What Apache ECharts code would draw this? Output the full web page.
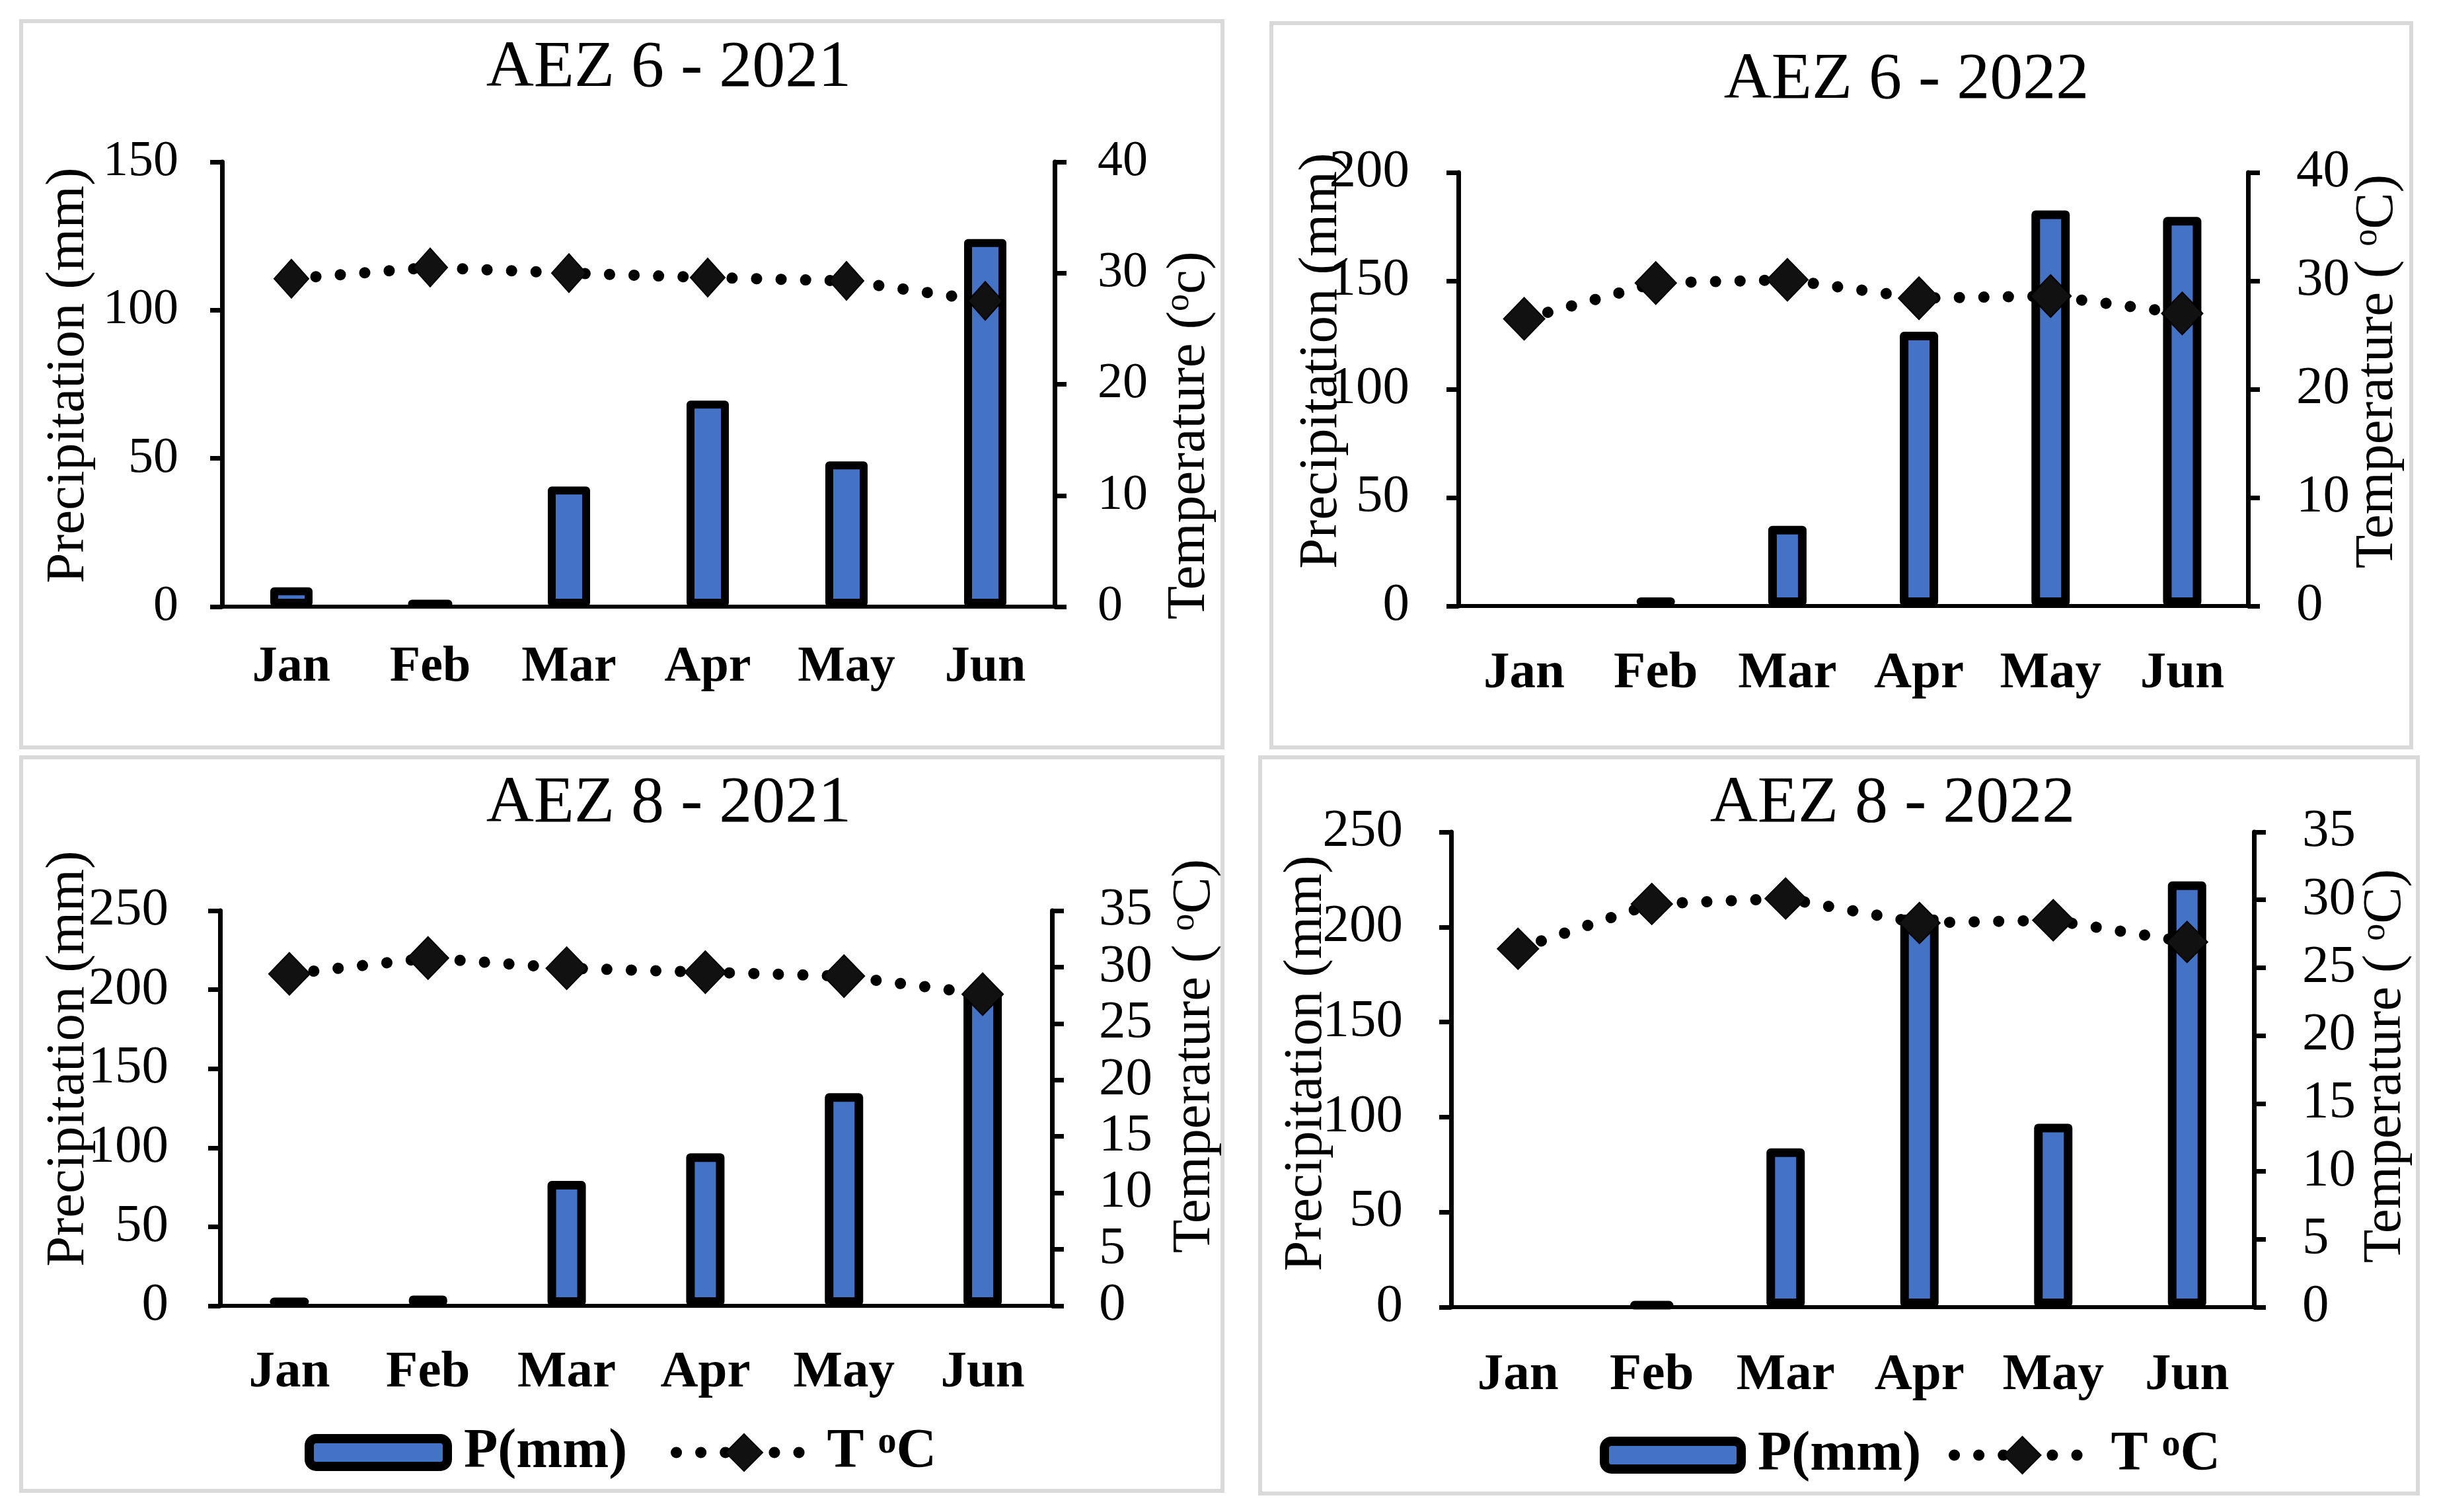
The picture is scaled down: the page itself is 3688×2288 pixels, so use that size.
<!DOCTYPE html>
<html><head><meta charset="utf-8">
<script src="https://cdn.jsdelivr.net/npm/echarts@6/dist/echarts.min.js"></script>
<style>html,body{margin:0;padding:0;background:#fff}#c{width:3688px;height:2288px}</style>
</head><body><div id="c"></div>
<script>
// ---------------- data ----------------
const months = ['Jan', 'Feb', 'Mar', 'Apr', 'May', 'Jun'];
const titles = ['AEZ 6 - 2021', 'AEZ 6 - 2022', 'AEZ 8 - 2021', 'AEZ 8 - 2022'];

const precip6_2021 = [6.5, 2, 40.5, 69.5, 49, 124];
const temp6_2021   = [29.5, 30.5, 30.0, 29.6, 29.3, 27.5];
const precip6_2022 = [0, 4, 37, 126.5, 182.5, 179.5];
const temp6_2022   = [26.5, 29.8, 30.1, 28.4, 28.6, 27.0];
const precip8_2021 = [5, 6.5, 79, 96.5, 134.5, 200];
const temp8_2021   = [29.4, 30.8, 29.9, 29.55, 29.2, 27.6];
const precip8_2022 = [0, 2, 83.5, 206.5, 96.5, 224];
const temp8_2022   = [26.4, 29.7, 30.1, 28.3, 28.5, 26.9];

// axis ranges: [min, max, interval]
const precipAxis = [[0, 150, 50], [0, 200, 50], [0, 250, 50], [0, 250, 50]];
const tempAxis   = [[0, 40, 10], [0, 40, 10], [0, 35, 5], [0, 35, 5]];

const leftNames  = ['Precipitation (mm)', 'Precipitation (mm)', 'Precipitation (mm)', 'Precipitation (mm)'];
const rightNames = ['Temperature ({sup|o}c)', 'Temperature ( {sup|o}C)', 'Temperature ( {sup|o}C)', 'Temperature ( {sup|o}C)'];
const seriesNames = ['P(mm)', 'T ºC'];

const precipAll = [precip6_2021, precip6_2022, precip8_2021, precip8_2022];
const tempAll   = [temp6_2021, temp6_2022, temp8_2021, temp8_2022];

// ---------------- layout / style ----------------
const FONT = '"Liberation Serif", "Times New Roman", serif';
const BLUE = '#4472C4';
const panels = [
  {grid: {left: 336, top: 245, width: 1260, height: 673}, frame: [32, 32, 1818, 1099], title: [1012, 104],
   lname: [104, 568], rname: [1800, 659], tickFont: 76, monthFont: 76, monthMargin: 54, lMargin: 66, rMargin: 65,
   sym: [52, 58], barW: 64, barB: 12},
  {grid: {left: 2207, top: 261, width: 1195, height: 656}, frame: [1924, 35, 1725, 1096], title: [2885, 122],
   lname: [2000, 546], rname: [3598, 562], tickFont: 81, monthFont: 79, monthMargin: 63, lMargin: 74, rMargin: 73,
   sym: [62, 64], barW: 58, barB: 13},
  {grid: {left: 333, top: 1378, width: 1259, height: 598}, frame: [32, 1146, 1818, 1110], title: [1012, 1217],
   lname: [104, 1602], rname: [1808, 1598], tickFont: 81, monthFont: 79, monthMargin: 62, lMargin: 78, rMargin: 71,
   sym: [62, 64], barW: 58, barB: 13},
  {grid: {left: 2196, top: 1259, width: 1215, height: 719}, frame: [1907, 1146, 1752, 1114], title: [2864, 1217],
   lname: [1977, 1609], rname: [3610, 1613], tickFont: 81, monthFont: 79, monthMargin: 64, lMargin: 73, rMargin: 73,
   sym: [62, 62], barW: 58, barB: 13}
];

const grids = [], xAxes = [], yAxes = [], series = [], graphics = [];
panels.forEach((p, i) => {
  grids.push(Object.assign({outerBoundsMode: 'none', containLabel: false}, p.grid));
  xAxes.push({
    type: 'category', gridIndex: i, data: months,
    axisLine: {show: true, lineStyle: {color: '#000', width: 6}},
    axisTick: {show: false},
    axisLabel: {color: '#000', fontFamily: FONT, fontWeight: 'bold', fontSize: p.monthFont, margin: p.monthMargin, interval: 0},
    splitLine: {show: false}
  });
  const yCommon = (range, pos, margin) => ({
    type: 'value', gridIndex: i, position: pos, min: range[0], max: range[1], interval: range[2],
    axisLine: {show: true, onZero: false, lineStyle: {color: '#000', width: 7}},
    axisTick: {show: true, inside: false, length: 18, lineStyle: {color: '#000', width: 7}},
    axisLabel: {color: '#000', fontFamily: FONT, fontSize: p.tickFont, margin: margin},
    splitLine: {show: false}
  });
  yAxes.push(yCommon(precipAxis[i], 'left', p.lMargin));
  yAxes.push(yCommon(tempAxis[i], 'right', p.rMargin));

  series.push({
    type: 'bar', name: seriesNames[0], xAxisIndex: i, yAxisIndex: 2 * i,
    // a zero month has no visible bar in the reference: drop its outline
    data: precipAll[i].map(v => v === 0 ? {value: 0, itemStyle: {borderWidth: 0}} : v),
    barWidth: p.barW, z: 2,
    itemStyle: {color: BLUE, borderColor: '#000', borderWidth: p.barB, borderJoin: 'round'},
    emphasis: {disabled: true}
  });
  series.push({
    type: 'line', name: seriesNames[1], xAxisIndex: i, yAxisIndex: 2 * i + 1,
    data: tempAll[i], z: 3,
    symbol: 'diamond', symbolSize: p.sym, showSymbol: true,
    lineStyle: {color: '#000', width: 17, type: [0.1, 37], cap: 'round'},
    itemStyle: {color: '#111', borderColor: '#000', borderWidth: 2},
    emphasis: {disabled: true}
  });

  graphics.push({type: 'rect', silent: true, z: -10,
    shape: {x: p.frame[0], y: p.frame[1], width: p.frame[2], height: p.frame[3]},
    style: {fill: 'none', stroke: '#d9d9d9', lineWidth: 6}});
  graphics.push({type: 'text', silent: true, x: p.title[0], y: p.title[1],
    style: {text: titles[i], fontFamily: FONT, fontSize: 100, fill: '#000', align: 'center', verticalAlign: 'middle'}});
  graphics.push({type: 'text', silent: true, x: p.lname[0], y: p.lname[1], rotation: Math.PI / 2,
    style: {text: leftNames[i], fontFamily: FONT, fontSize: 83, fill: '#000', align: 'center', verticalAlign: 'middle'}});
  graphics.push({type: 'text', silent: true, x: p.rname[0], y: p.rname[1], rotation: Math.PI / 2,
    style: {text: rightNames[i], fontFamily: FONT, fontSize: 83, fill: '#000', align: 'center', verticalAlign: 'middle',
      rich: {sup: {fontFamily: FONT, fontSize: 52, fill: '#000', verticalAlign: 'top'}}}});
});

// legends (bottom panels)
const legendText = {color: '#000', fontFamily: FONT, fontWeight: 'bold', fontSize: 84,
  rich: {sup: {fontFamily: FONT, fontWeight: 'bold', fontSize: 56, color: '#000', verticalAlign: 'top'}}};
function barLegend(left, cy, w) {
  return {left: left, top: cy - 48, orient: 'horizontal', selectedMode: false, itemWidth: w, itemHeight: 42,
    textStyle: Object.assign({}, legendText, {padding: [0, 0, 0, 20]}),
    data: [{name: seriesNames[0], icon: 'roundRect', itemStyle: {color: BLUE, borderColor: '#000', borderWidth: 14}}]};
}
function lineLegend(left, cy, w, pad) {
  return {left: left, top: cy - 48, orient: 'horizontal', selectedMode: false, itemWidth: w, itemHeight: 70,
    textStyle: Object.assign({}, legendText, {padding: [0, 0, 0, pad]}),
    formatter: () => 'T {sup|o}C',
    data: [{name: seriesNames[1],
      itemStyle: {color: '#111', borderColor: '#000', borderWidth: 2},
      lineStyle: {color: '#000', width: 17, type: [0.1, 37], cap: 'round'}}]};
}
const legends = [
  barLegend(456, 2199, 209), lineLegend(1010, 2199, 205, 18),
  barLegend(2416, 2203, 207), lineLegend(2944, 2203, 206, 26)
];

const chart = echarts.init(document.getElementById('c'), null, {renderer: 'canvas'});
chart.setOption({
  animation: false,
  backgroundColor: '#fff',
  grid: grids, xAxis: xAxes, yAxis: yAxes, series: series,
  legend: legends,
  graphic: graphics,
  tooltip: {show: false}
});
</script></body></html>
